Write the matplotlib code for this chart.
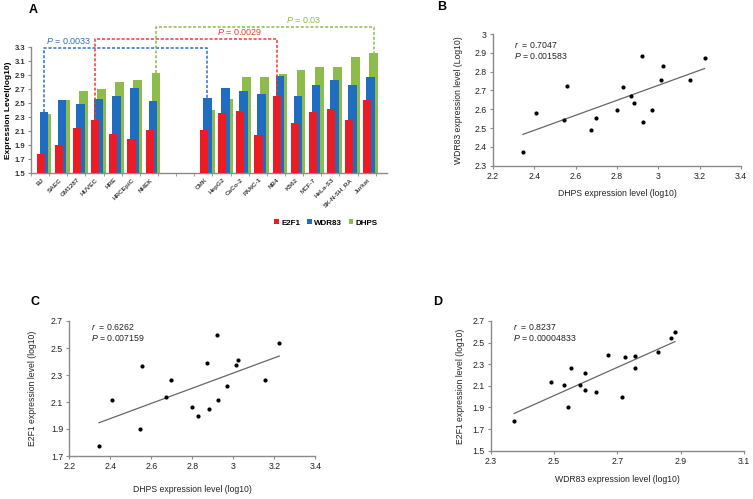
import numpy as np
import matplotlib
matplotlib.use("Agg")
import matplotlib.pyplot as plt

plt.rcParams['font.family'] = ['Liberation Sans', 'DejaVu Sans']
plt.rcParams['mathtext.fontset'] = 'custom'
plt.rcParams['mathtext.it'] = 'Liberation Sans:italic'
plt.rcParams['mathtext.rm'] = 'Liberation Sans'

# ---------------- data ----------------
cell_lines = ["BJ", "SAEC", "GM1287", "HUVEC", "HRE", "HRCEpiC", "NHEK",
              "CMK", "HepG2", "CaCo-2", "PANC-1", "NB4", "K562", "MCF-7",
              "HeLa-S3", "SK-N-SH_RA", "Jurkat"]
e2f1 = [1.772, 1.902, 2.140, 2.262, 2.065, 1.994, 2.112,
        2.112, 2.363, 2.390, 2.046, 2.600, 2.218, 2.377, 2.411, 2.265, 2.539]
wdr83 = [2.374, 2.543, 2.490, 2.554, 2.597, 2.716, 2.530,
         2.581, 2.724, 2.670, 2.632, 2.882, 2.597, 2.757, 2.829, 2.756, 2.871]
dhps = [2.345, 2.545, 2.672, 2.698, 2.798, 2.828, 2.927,
        2.408, 2.556, 2.870, 2.880, 2.920, 2.971, 3.013, 3.024, 3.154, 3.224]
slots = [0, 1, 2, 3, 4, 5, 6, 9, 10, 11, 12, 13, 14, 15, 16, 17, 18]

series_names = ["E2F1", "WDR83", "DHPS"]
series_colors = ["#EC1C24", "#1F6DC0", "#8DBB4E"]
a_yticks = [1.5, 1.7, 1.9, 2.1, 2.3, 2.5, 2.7, 2.9, 3.1, 3.3]

# bracket annotations: (label, color, series, left cell, right cell, level)
brackets = [("0.0033", "#2E6FC7", "WDR83", "BJ", "CMK", 3.287),
            ("0.0029", "#EE3B30", "E2F1", "HUVEC", "NB4", 3.42),
            ("0.03", "#8DBB4E", "DHPS", "NHEK", "Jurkat", 3.596)]

stats_B = ("0.7047", "0.001583")
stats_C = ("0.6262", "0.007159")
stats_D = ("0.8237", "0.00004833")

W, H = 753, 499
fig = plt.figure(figsize=(W / 100, H / 100), dpi=100)

def ax_px(l, r, t, b):
    return fig.add_axes([l / W, 1 - b / H, (r - l) / W, (b - t) / H])

spine_c = "#8a8a8a"

# ---------------- Panel A ----------------
axA = ax_px(31, 387, 47.3, 173)
vals = [e2f1, wdr83, dhps]
offs = [(0.0, 0.45), (0.17, 0.47), (0.33, 0.48)]
zords = [3, 2, 1]
x = np.array(slots, dtype=float)
for v, c, (o, w), z, n in zip(vals, series_colors, offs, zords, series_names):
    axA.bar(x + o, np.array(v) - 1.5, bottom=1.5, width=w, align='edge',
            color=c, zorder=z, label=n, linewidth=0)
axA.set_xlim(-0.314, 19.31)
axA.set_ylim(1.5, 3.3)
axA.set_yticks(a_yticks)
axA.set_yticklabels([f"{t:.1f}" for t in a_yticks], fontsize=5.5, fontweight='bold', color="#333333")
axA.set_xticks(x + 0.25)
axA.set_xticklabels(cell_lines, rotation=45, ha='right', va='top', rotation_mode='anchor',
                    fontsize=4.6, fontweight='bold', color="#444444")
axA.tick_params(axis='x', length=0, pad=3)
axA.set_xticks(np.arange(20) - 0.314, minor=True)
axA.tick_params(axis='x', which='minor', length=2.5, color=spine_c, direction='out')
axA.tick_params(axis='y', length=2.5, color=spine_c, direction='out', pad=1.5)
for s in ['top', 'right']:
    axA.spines[s].set_visible(False)
for s in ['left', 'bottom']:
    axA.spines[s].set_color(spine_c)
    axA.spines[s].set_linewidth(1.0)
axA.set_ylabel("Expression Level(log10)", fontsize=6, fontweight='bold', labelpad=2)

centers = {"E2F1": 0.22, "WDR83": 0.40, "DHPS": 0.57}
sdict = {"E2F1": e2f1, "WDR83": wdr83, "DHPS": dhps}
for lab, col, ser, c1, c2, lvl in brackets:
    i1, i2 = cell_lines.index(c1), cell_lines.index(c2)
    x1, x2 = slots[i1] + centers[ser], slots[i2] + centers[ser]
    y1, y2 = sdict[ser][i1], sdict[ser][i2]
    axA.plot([x1, x1, x2, x2], [y1, lvl, lvl, y2], ls=(0, (2, 1.2)), color=col,
             lw=1.1, clip_on=False, zorder=5)
txt_pos = {"0.0033": 1.75, "0.0029": 11.2, "0.03": 14.7}
for lab, col, ser, c1, c2, lvl in brackets:
    axA.text(txt_pos[lab], lvl + 0.03, f"$P$ = {lab}", color=col, fontsize=6.5,
             ha='center', va='bottom', clip_on=False)

handles, labels = axA.get_legend_handles_labels()
fig.legend(handles, labels, loc='center', bbox_to_anchor=(326 / W, 1 - 223 / H), ncol=3,
           frameon=False, handlelength=0.6, handleheight=0.6,
           handletextpad=0.3, columnspacing=0.8,
           prop={'weight': 'bold', 'size': 5.8})
fig.text(33 / W, 1 - 10 / H, "A", fontsize=9, fontweight='bold', ha='center', va='center')

# ---------------- scatter panels ----------------
def fmt(t):
    s = f"{t:.1f}"
    return s[:-2] if s.endswith(".0") else s

def scatter_panel(rect, xv, yv, xlim, ylim, xt, yt, xlab, ylab, stats, letter, letter_pos,
                  ylab_x, xlab_y, txt_xy):
    ax = ax_px(*rect)
    xv = np.array(xv); yv = np.array(yv)
    ax.scatter(xv, yv, s=9, color='black', zorder=3, linewidths=0)
    k, b = np.polyfit(xv, yv, 1)
    xx = np.array([xv.min(), xv.max()])
    ax.plot(xx, k * xx + b, color="#666666", lw=0.9, zorder=2)
    ax.set_xlim(*xlim); ax.set_ylim(*ylim)
    ax.set_xticks(xt); ax.set_yticks(yt)
    ax.set_xticklabels([fmt(t) for t in xt], fontsize=6.3, color="#222222")
    ax.set_yticklabels([fmt(t) for t in yt], fontsize=6.3, color="#222222")
    ax.tick_params(length=2.5, color=spine_c, direction='out', pad=2)
    for s in ['top', 'right']:
        ax.spines[s].set_visible(False)
    for s in ['left', 'bottom']:
        ax.spines[s].set_color(spine_c)
        ax.spines[s].set_linewidth(1.0)
    ax.set_xlabel(xlab, fontsize=6.2, color="#222222")
    ax.set_ylabel(ylab, fontsize=6.2, color="#222222")
    ax.yaxis.set_label_coords(ylab_x, 0.5)
    ax.xaxis.set_label_coords(0.5, xlab_y)
    ax.text(txt_xy[0], txt_xy[1], f"$r$  = {stats[0]}\n$P$ = {stats[1]}", transform=ax.transAxes,
            fontsize=6.3, va='top', ha='left', linespacing=1.1, color="#222222")
    fig.text(letter_pos[0] / W, 1 - letter_pos[1] / H, letter, fontsize=9, fontweight='bold',
             ha='center', va='center')
    return ax

# Panel B
l, r, t, b_ = 493, 741, 34, 165.7
scatter_panel((l, r, t, b_), dhps, wdr83, (2.2, 3.4), (2.3, 3.0),
              [2.2, 2.4, 2.6, 2.8, 3.0, 3.2, 3.4],
              [2.3, 2.4, 2.5, 2.6, 2.7, 2.8, 2.9, 3.0],
              "DHPS expression level (log10)", "WDR83 expression level (Log10)",
              stats_B, "B", (442, 7),
              (463 - l) / (r - l), -(189 - b_) / (b_ - t),
              ((514 - l) / (r - l), 1 - (40 - t) / (b_ - t)))

# Panel C
l, r, t, b_ = 69.3, 315.3, 321, 456
scatter_panel((l, r, t, b_), dhps, e2f1, (2.2, 3.4), (1.7, 2.7),
              [2.2, 2.4, 2.6, 2.8, 3.0, 3.2, 3.4],
              [1.7, 1.9, 2.1, 2.3, 2.5, 2.7],
              "DHPS expression level (log10)", "E2F1 expression level (log10)",
              stats_C, "C", (35, 302),
              (37 - l) / (r - l), -(485.5 - b_) / (b_ - t),
              ((91 - l) / (r - l), 1 - (322 - t) / (b_ - t)))

# Panel D
l, r, t, b_ = 490.7, 744, 321, 450.7
scatter_panel((l, r, t, b_), wdr83, e2f1, (2.3, 3.1), (1.5, 2.7),
              [2.3, 2.5, 2.7, 2.9, 3.1],
              [1.5, 1.7, 1.9, 2.1, 2.3, 2.5, 2.7],
              "WDR83 expression level (log10)", "E2F1 expression level (log10)",
              stats_D, "D", (438, 302),
              (465 - l) / (r - l), -(475.5 - b_) / (b_ - t),
              ((513 - l) / (r - l), 1 - (322 - t) / (b_ - t)))

fig.savefig("out.png", dpi=100, facecolor='white')
